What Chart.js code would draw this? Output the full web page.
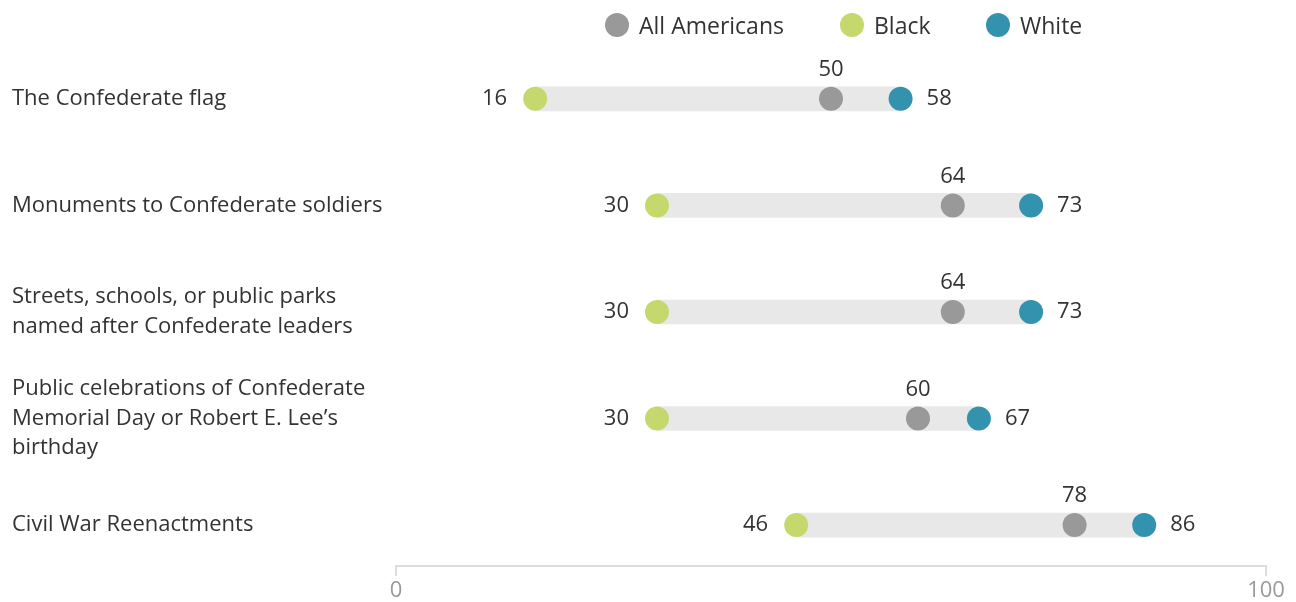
<!DOCTYPE html>
<html>
<head>
<meta charset="utf-8">
<script src="https://cdn.jsdelivr.net/npm/chart.js@4/dist/chart.umd.min.js"></script>
<style>
  body { margin: 0; background: #fff; font-family: "Open Sans", sans-serif; }
  #wrap { position: relative; width: 1296px; height: 602px; }
  .leg { position: absolute; top: 13px; display: flex; align-items: center; font-size: 23px; color: #333; line-height: 24px; }
  .leg span.dot { width: 24px; height: 24px; border-radius: 50%; margin-right: 10px; display: inline-block; }
</style>
</head>
<body>
<div id="wrap">
  <canvas id="chart" width="1296" height="602"></canvas>
  <div class="leg" style="left:605px"><span class="dot" style="background:#999999"></span>All Americans</div>
  <div class="leg" style="left:840px"><span class="dot" style="background:#c5d86d"></span>Black</div>
  <div class="leg" style="left:986px"><span class="dot" style="background:#3393ae"></span>White</div>
</div>
<script>
// categories and values
const categories = [
  'The Confederate flag',
  'Monuments to Confederate soldiers',
  ['Streets, schools, or public parks', 'named after Confederate leaders'],
  ['Public celebrations of Confederate', 'Memorial Day or Robert E. Lee\u2019s', 'birthday'],
  'Civil War Reenactments'
];
const allAmericans = [50, 64, 64, 60, 78];
const black = [16, 30, 30, 30, 46];
const white = [58, 73, 73, 67, 86];
const xTicks = [0, 100];

const grayC = '#999999', greenC = '#c5d86d', blueC = '#3393ae';

const pts = arr => arr.map((v, i) => ({ x: v, y: i }));

// value labels next to the dots
const valueLabels = {
  id: 'valueLabels',
  afterDatasetsDraw(chart) {
    const ctx = chart.ctx, xs = chart.scales.x, ys = chart.scales.y;
    ctx.save();
    ctx.font = '22px "Open Sans"';
    ctx.fillStyle = '#333';
    ctx.textBaseline = 'middle';
    categories.forEach((c, i) => {
      const y = ys.getPixelForValue(i);
      ctx.textAlign = 'right';
      ctx.fillText(black[i], xs.getPixelForValue(black[i]) - 28, y);
      ctx.textAlign = 'left';
      ctx.fillText(white[i], xs.getPixelForValue(white[i]) + 26, y);
      ctx.textAlign = 'center';
      ctx.fillText(allAmericans[i], xs.getPixelForValue(allAmericans[i]), y - 29);
    });
    ctx.restore();
  }
};

new Chart(document.getElementById('chart').getContext('2d'), {
  type: 'bar',
  data: {
    datasets: [
      {
        type: 'bar',
        label: 'range',
        data: categories.map((c, i) => ({ x: [black[i], white[i]], y: i })),
        backgroundColor: '#e7e8e7',
        barThickness: 24,
        order: 10
      },
      {
        type: 'line', label: 'All Americans', data: pts(allAmericans),
        showLine: false, pointRadius: 12, pointHoverRadius: 12, pointBorderWidth: 0,
        backgroundColor: grayC, borderColor: grayC, order: 1
      },
      {
        type: 'line', label: 'Black', data: pts(black),
        showLine: false, pointRadius: 12, pointHoverRadius: 12, pointBorderWidth: 0,
        backgroundColor: greenC, borderColor: greenC, order: 1
      },
      {
        type: 'line', label: 'White', data: pts(white),
        showLine: false, pointRadius: 12, pointHoverRadius: 12, pointBorderWidth: 0,
        backgroundColor: blueC, borderColor: blueC, order: 1
      }
    ]
  },
  options: {
    indexAxis: 'y',
    responsive: false,
    animation: false,
    devicePixelRatio: 1,
    layout: { padding: { left: 12, right: 30, top: 41, bottom: 0 } },
    plugins: { legend: { display: false }, tooltip: { enabled: false } },
    scales: {
      x: {
        type: 'linear',
        min: 0, max: 100,
        afterBuildTicks: s => { s.ticks = xTicks.map(v => ({ value: v })); },
        afterFit: s => { s.height = 36; },
        grid: { drawOnChartArea: false, drawTicks: true, tickLength: 10, color: '#dddddd', lineWidth: 2 },
        border: { display: true, color: '#dddddd', width: 2 },
        ticks: { color: '#999', font: { family: 'Open Sans', size: 22 }, padding: 2, maxRotation: 0 }
      },
      y: {
        type: 'linear',
        reverse: true,
        offset: false,
        min: -0.543, max: 4.384,
        afterBuildTicks: s => { s.ticks = categories.map((c, i) => ({ value: i })); },
        afterFit: s => { s.width = 384; },
        grid: { display: false, offset: false },
        border: { display: false },
        ticks: {
          crossAlign: 'far',
          color: '#333',
          font: { family: 'Open Sans', size: 22, lineHeight: 1.34 },
          callback: v => categories[v]
        }
      }
    }
  },
  plugins: [valueLabels]
});
</script>
</body>
</html>
